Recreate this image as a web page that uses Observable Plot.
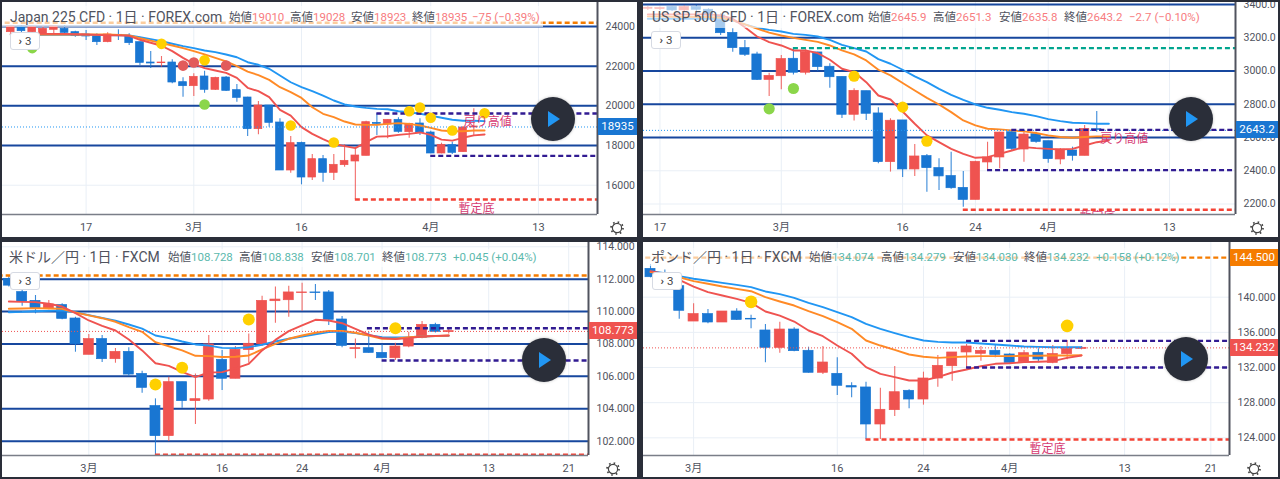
<!DOCTYPE html>
<html lang="ja"><head><meta charset="utf-8">
<script src="https://cdn.jsdelivr.net/npm/d3@7"></script>
<script src="https://cdn.jsdelivr.net/npm/@observablehq/plot@0.6"></script>
<style>
html,body{margin:0;padding:0;background:#2a2e39;width:1280px;height:479px;overflow:hidden;font-family:Roboto,"Noto Sans CJK JP",sans-serif}
.pane{position:absolute;background:#fff;overflow:hidden}
.pane svg.chart{position:absolute;left:0;top:0;background:transparent;font-family:Roboto,"Noto Sans CJK JP",sans-serif}
.band{position:absolute;background:rgba(255,255,255,.62)}
.t{position:absolute;white-space:nowrap;line-height:16px;height:16px}
.tag{position:absolute;color:#fff;font-size:11.5px;text-align:center;line-height:17px;height:17px}
.btn3{position:absolute;width:28px;height:16px;background:#fff;border:1px solid #d6dae3;border-radius:3px;color:#444;font-size:11.5px;line-height:16px;text-align:center;box-sizing:content-box}
.play{position:absolute;width:44px;height:44px;border-radius:22px;background:#2a2e39;box-shadow:0 0 3px rgba(0,0,0,.25)}
.play i{position:absolute;left:17px;top:14px;width:0;height:0;border-left:12px solid #2196f3;border-top:8px solid transparent;border-bottom:8px solid transparent}
.gear{position:absolute;width:16px;height:16px}
</style></head><body>
<script>
// ---------- Japan 225 CFD ----------
const jpOpen=[23714,24000,23714,23630,23832,23882,23714,23596,23512,23210,23580,23529,23210,22185,22152,22185,21194,20992,21480,20808,21429,20791,20421,18825,20018,19161,16742,18136,16389,17313,16624,17011,17196,17481,19144,19060,19296,18674,19111,18657,17599,18019,17666,18909];
const jpHigh=[24000,24050,24000,24000,24000,24050,23764,23798,23630,23680,23832,23630,23210,22740,22488,22320,21412,21614,21748,21446,21480,21076,20438,20220,20018,19346,18456,18170,17548,17498,17548,18036,17834,19228,19598,19296,19396,19128,19346,18724,18120,18170,18960,19850];
const jpLow=[23630,23630,23600,23546,23630,23596,23462,23294,23042,23176,23294,23042,22034,21883,21950,21110,20438,20472,20640,20774,20724,20186,18456,18540,18926,16742,16608,16020,16238,16154,16238,16910,15281,17481,18506,18338,18624,18372,18506,17582,17582,17548,17666,18506];
const jpClose=[24000,23764,23966,23882,24000,23680,23512,23496,23210,23596,23529,23160,22168,22135,22185,21177,20992,21463,20808,21412,20757,20404,18825,20018,19144,16742,18120,16389,17313,16624,17028,17229,17498,19178,19094,19296,18691,19094,18624,17599,18036,17632,18909,18960];
const jpFast=[23630,23630,23630,23630,23630,23630,23610,23600,23580,23560,23550,23530,23330,23180,23030,22760,22420,22120,21900,21780,21660,21410,20910,20740,20440,19800,19510,18930,18590,18320,18090,17970,17870,18170,18450,18470,18540,18590,18660,18540,18300,18250,18390,18510,18560];
const jpMid=[23600,23600,23600,23600,23600,23600,23600,23600,23600,23600,23580,23550,23410,23290,23160,23040,22910,22760,22590,22420,22240,22000,21730,21550,21310,20940,20690,20400,19930,19600,19430,19210,19060,19040,19040,19090,19130,19090,19010,18890,18760,18720,18720,18760,18760];
const jpSlow=[23580,23580,23580,23580,23580,23580,23580,23580,23580,23570,23560,23550,23460,23360,23260,23130,23010,22910,22790,22710,22590,22450,22200,22070,21870,21530,21190,20940,20740,20520,20270,20070,19970,19900,19850,19830,19730,19680,19600,19510,19400,19300,19250,19250,19230];
const jpDotBar=[2,14,16,17,18,18,20,26,30,37,38,39,41,44];
const jpDotPrice=[22910,23125,22030,22185,22300,20070,22030,19010,18155,19730,19920,19400,18760,19630];
const jpDotKind=["green","yellow","red","red","yellow","green","red","yellow","yellow","yellow","yellow","yellow","yellow","yellow"];
const jpYTicks=[24000,22000,20000,18000,16000];
const jpMajor=[24000,22000,20000,18000];
const jpTickBars=[7,17,27,39,49];
const jpTickLabels=["17","3月","16","4月","13"];
const jpDashPrice=[24185,19615,17480,15280];
const jpDashStart=[-2,34,39,32];
const jpDashKind=["orange","indigo","indigo","red"];
const jpNoteText=["戻り高値","暫定底"];
const jpNoteBar=[44.3,43.25];
const jpNotePrice=[19161,14810];

// ---------- US SP 500 CFD ----------
const spOpen=[3375,3373,3385,3365,3385,3369,3334,3230,3138,3100,2947,2969,3074,2990,3112,3026,2965,2737,2879,2745,2452,2703,2408,2488,2416,2368,2297,2225,2450,2480,2632,2528,2620,2578,2468,2522,2490,2650];
const spHigh=[3389,3385,3389,3391,3395,3375,3345,3254,3184,3114,2987,3094,3138,3128,3114,3044,2965,2893,2879,2779,2713,2703,2558,2498,2472,2512,2396,2458,2572,2632,2646,2636,2632,2578,2534,2542,2672,2757];
const spLow=[3365,3365,3359,3359,3355,3328,3214,3114,3088,2943,2847,2887,2976,2976,2999,2897,2715,2699,2703,2442,2392,2360,2366,2271,2281,2289,2181,2225,2406,2412,2516,2452,2566,2446,2436,2458,2490,2632];
const spClose=[3381,3379,3365,3385,3369,3334,3228,3138,3098,2947,2971,3072,2990,3114,3024,2963,2737,2881,2743,2452,2701,2408,2486,2416,2366,2295,2225,2454,2480,2630,2532,2618,2574,2470,2528,2490,2652,2646];
const spFast=[3341,3341,3341,3341,3341,3341,3335,3315,3264,3208,3174,3154,3124,3124,3108,3068,3014,2994,2933,2853,2829,2757,2683,2613,2572,2532,2502,2478,2482,2502,2522,2542,2536,2532,2528,2532,2552,2572,2582];
const spMid=[3329,3329,3327,3327,3325,3325,3321,3305,3281,3255,3231,3214,3200,3188,3176,3154,3124,3100,3064,3008,2974,2928,2883,2839,2799,2753,2703,2673,2653,2649,2643,2637,2627,2613,2603,2599,2603,2607,2607];
const spSlow=[3315,3315,3315,3315,3315,3315,3313,3305,3281,3260,3248,3238,3224,3218,3208,3188,3158,3138,3118,3072,3044,3008,2968,2933,2893,2857,2827,2799,2779,2767,2753,2743,2729,2711,2699,2689,2687,2683,2683];
const spDotBar=[10,12,17,21,23];
const spDotPrice=[2773,2895,2969,2783,2578];
const spDotKind=["green","green","yellow","yellow","yellow"];
const spYTicks=[3400,3200,3000,2800,2600,2400,2200];
const spMajor=[3400,3200,3000,2800,2600];
const spTickBars=[1,11,21,27,33,43];
const spTickLabels=["17","3月","16","24","4月","13"];
const spDashPrice=[3138,2646,2404,2165];
const spDashStart=[12,30,28,26];
const spDashKind=["teal","indigo","indigo","red"];
const spNoteText=["戻り高値","暫定底"];
const spNoteBar=[39.26,37.07];
const spNotePrice=[2592,2121];

// ---------- 米ドル/円 ----------
const ujOpen=[112.02,111.20,110.66,110.19,110.40,109.57,107.33,108.30,107.06,107.51,106.15,104.16,102.31,105.64,104.47,104.57,107.02,105.85,107.62,107.99,110.64,110.70,111.14,111.18,111.18,109.51,107.68,107.74,107.45,107.12,107.84,108.36,109.18,108.73];
const ujHigh=[112.23,111.30,110.99,110.68,110.48,109.65,108.58,108.52,107.72,107.76,106.32,104.61,105.95,105.64,106.15,108.52,107.60,107.84,108.62,110.95,111.51,111.57,111.75,111.67,111.30,109.69,108.30,108.73,107.97,108.05,108.73,109.39,109.28,108.99];
const ujLow=[111.51,110.33,109.86,110.11,109.49,107.49,107.33,106.85,106.81,105.99,104.96,101.11,101.98,104.03,103.03,104.47,105.13,105.85,106.81,107.84,109.28,109.65,110.02,110.68,109.14,107.76,107.08,107.43,107.08,106.98,107.76,108.32,108.67,108.62];
const ujClose=[111.60,110.62,110.17,110.44,109.55,107.99,108.30,107.06,107.51,106.11,105.29,102.31,105.64,104.47,104.59,107.97,105.85,107.64,108.01,110.66,110.74,111.18,111.18,111.14,109.49,107.88,107.74,107.45,107.12,107.84,108.32,109.18,108.75,108.79];
const ujFast=[110.62,110.60,110.58,110.48,110.31,109.90,109.45,109.12,108.83,108.28,107.60,106.81,106.65,106.28,105.95,106.24,106.26,106.49,106.77,107.60,108.25,108.79,109.14,109.49,109.45,109.28,108.93,108.58,108.36,108.30,108.36,108.46,108.50,108.52];
const ujMid=[110.17,110.19,110.21,110.19,110.17,109.94,109.76,109.59,109.37,109.04,108.75,108.11,107.86,107.60,107.27,107.25,107.19,107.21,107.29,107.66,108.01,108.32,108.52,108.69,108.81,108.81,108.69,108.52,108.32,108.32,108.42,108.46,108.48,108.52];
const ujSlow=[109.96,109.98,110.02,110.04,110.07,109.96,109.78,109.61,109.43,109.20,108.95,108.52,108.36,108.15,107.97,107.90,107.76,107.74,107.80,107.95,108.15,108.32,108.46,108.60,108.73,108.77,108.67,108.54,108.42,108.40,108.42,108.46,108.48,108.50];
const ujDotBar=[11,13,18,29];
const ujDotPrice=[105.50,106.53,109.51,108.97];
const ujDotKind=["yellow","yellow","yellow","yellow"];
const ujYTicks=[114,112,110,108,106,104,102];
const ujMajor=[112,110,108,106,104,102];
const ujTickBars=[6,16,22,28,36,42];
const ujTickLabels=["3月","16","24","4月","13","21"];
const ujDashPrice=[112.23,108.97,106.98,101.17];
const ujDashStart=[-2,26.9,28,11];
const ujDashKind=["orange","indigo","indigo","red"];

// ---------- ポンド/円 ----------
const gjOpen=[143.22,142.65,141.25,137.23,138.07,137.12,138.37,137.54,136.21,134.24,136.32,133.90,131.40,131.28,129.88,129.73,125.52,127.15,129.35,128.36,130.75,132.15,133.71,133.56,133.90,133.48,132.61,133.67,132.53,133.52,134.12];
const gjHigh=[143.72,143.10,141.25,139.24,138.60,138.37,138.67,137.95,136.89,137.16,136.51,134.31,134.39,133.10,130.28,130.33,129.65,132.12,129.46,131.47,133.37,133.71,134.62,134.39,134.62,133.56,133.93,134.12,134.50,135.07,134.39];
const gjLow=[142.20,141.10,137.50,137.23,136.97,137.12,137.35,136.40,132.53,133.63,133.78,131.36,131.21,128.82,128.55,123.81,123.81,126.43,127.30,127.72,129.76,130.45,131.85,132.72,133.10,132.49,132.49,132.53,132.42,132.87,134.01];
const gjClose=[142.27,141.14,138.45,138.07,137.12,138.37,137.42,137.46,134.24,136.32,133.86,131.40,132.57,129.92,129.73,125.52,127.19,129.19,128.36,130.75,132.19,133.71,134.39,133.90,133.44,132.53,133.63,132.91,133.52,134.12,134.24];
const gjFast=[142.96,142.65,141.97,141.21,140.57,140.19,139.81,139.36,138.37,137.91,137.23,136.21,135.56,134.50,133.56,132.04,131.28,130.90,130.52,130.52,130.90,131.43,131.77,132.15,132.42,132.49,132.61,132.65,132.72,133.10,133.37];
const gjMid=[142.85,142.65,142.27,141.82,141.52,141.21,140.95,140.68,140.00,139.51,139.05,138.41,137.84,137.16,136.40,135.07,134.50,134.01,133.48,133.22,133.10,133.18,133.25,133.29,133.29,133.29,133.33,133.33,133.37,133.37,133.40];
const gjSlow=[142.96,142.73,142.39,142.09,141.86,141.63,141.40,141.14,140.65,140.34,139.92,139.36,138.86,138.29,137.73,136.97,136.40,135.91,135.45,135.07,134.92,134.84,134.84,134.73,134.62,134.50,134.39,134.35,134.31,134.31,134.31];
const gjDotBar=[7,29];
const gjDotPrice=[139.47,136.74];
const gjDotKind=["yellow","yellow"];
const gjYTicks=[140,136,132,128,124];
const gjMajor=[];
const gjTickBars=[3,13,19,25,33,39];
const gjTickLabels=["3月","16","24","4月","13","21"];
const gjDashPrice=[144.5,135.03,132.0,123.81];
const gjDashStart=[-2,22,22,15];
const gjDashKind=["orange","indigo","indigo","red"];
const gjNoteText=["暫定底"];
const gjNoteBar=[27.63];
const gjNotePrice=[122.75];

const UP="#ef5350",DOWN="#1976d2",NAVY="#17479e",GRID="#e9eff6",AXIS="#50535e",TEXT="#50535e";
const dashColor={orange:"#f57c00",indigo:"#311b92",red:"#f44336",teal:"#00a58e"};
const dotColor={yellow:"#ffd000",green:"#8bd64a",red:"#e25b5b"};

function add(parent,cls,css,html){const e=document.createElement("div");e.className=cls;e.style.cssText=css;if(html!=null)e.innerHTML=html;parent.appendChild(e);return e;}

function drawPanel(o){
  const W=o.right-o.left,H=o.bottom-o.top;
  const pane=add(document.body,"pane",`left:${o.left}px;top:${o.top}px;width:${W}px;height:${H}px`);
  const xMin=(o.left-o.x0)/o.dx,xMax=(o.axisX-o.x0)/o.dx;
  const priceAt=z=>o.p0+o.p1*z;
  const yMin=priceAt((o.lineY-240*(o.top>100?1:0))*3),yMax=priceAt((o.top-240*(o.top>100?1:0))*3);
  const idx=d3.range(o.open.length);
  const hw=o.bodyW/2;
  const clip={clip:true};
  const dashes=o.dashPrice.map((p,i)=>({p,s:o.dashStart[i],k:o.dashKind[i]}));
  const line=(arr,stroke)=>Plot.line(arr.map((v,i)=>[i,v]),{x:"0",y:"1",stroke,strokeWidth:1.9,...clip});
  const marks=[
    Plot.ruleX(o.tickBars,{stroke:GRID,strokeWidth:1,...clip}),
    Plot.ruleY(o.yTicks,{stroke:GRID,strokeWidth:1,...clip}),
    Plot.ruleY(o.major,{stroke:NAVY,strokeWidth:2,...clip}),
    Plot.ruleX(idx,{x:i=>i,y1:i=>o.low[i],y2:i=>o.high[i],stroke:i=>o.close[i]>=o.open[i]?UP:DOWN,strokeWidth:1.1,strokeOpacity:.85,...clip}),
    Plot.rect(idx,{x1:i=>i-hw,x2:i=>i+hw,y1:i=>o.open[i],y2:i=>o.close[i],fill:i=>o.close[i]>=o.open[i]?UP:DOWN,stroke:i=>o.close[i]>=o.open[i]?UP:DOWN,strokeWidth:.7,...clip}),
    line(o.slow,"#2196f3"),line(o.mid,"#ff8a26"),line(o.fast,"#ef5350"),
    Plot.ruleY([o.last],{stroke:o.lastColor,strokeWidth:1,strokeDasharray:"1,2",...clip}),
    Plot.ruleY(dashes,{y:"p",x1:"s",x2:()=>xMax,stroke:d=>dashColor[d.k],strokeWidth:2.4,strokeDasharray:"5,3",...clip}),
    Plot.dot(o.dotBar,{x:d=>d,y:(d,i)=>o.dotPrice[i],r:o.dotR,fill:(d,i)=>dotColor[o.dotKind[i]],...clip}),
    Plot.text(o.noteText||[],{x:(d,i)=>o.noteBar[i],y:(d,i)=>o.notePrice[i],text:d=>d,fill:"#d63b73",fontSize:12,fontFamily:'"Noto Sans CJK JP"',...clip}),
    Plot.ruleX([xMax],{stroke:AXIS,strokeWidth:2}),
    Plot.ruleY([yMin],{stroke:"#7a7e88",strokeWidth:1.5}),
    Plot.axisX({ticks:o.tickBars,tickFormat:d=>o.tickLabels[o.tickBars.indexOf(d)],tickSize:0,tickPadding:9,fontSize:11,fill:TEXT,anchor:"bottom",label:null}),
    Plot.axisY({ticks:o.yTicks,tickFormat:d=>d3.format(o.fmt)(d),tickSize:0,tickPadding:8,fontSize:10.5,fill:TEXT,anchor:"right",label:null})
  ];
  const chart=Plot.plot({width:W,height:H,marginLeft:0,marginTop:0,marginRight:o.right-o.axisX,marginBottom:o.bottom-o.lineY,
    x:{type:"linear",domain:[xMin,xMax],range:[0,o.axisX-o.left],axis:null},
    y:{type:"linear",domain:[yMin,yMax],range:[o.lineY-o.top,0],axis:null},
    style:{background:"transparent",overflow:"hidden"},marks});
  chart.classList.add("chart");
  pane.appendChild(chart);
  const yS=chart.scale("y");
  add(pane,"band",`left:0;top:${o.bandTop-o.top}px;width:${o.bandRight-o.left}px;height:${o.bandH}px`);
  add(pane,"t",`left:${o.titleX-o.left}px;top:${o.textY-o.top-8}px;font-size:14px;color:${TEXT}`,o.title);
  o.legend.forEach(([x,label,val])=>{
    add(pane,"t",`left:${x-o.left}px;top:${o.textY-o.top-8}px;font-size:11.5px;color:${TEXT}`,`${label}<span style="color:${o.legendColor}">${val}</span>`);
  });
  add(pane,"btn3",`left:${o.btnX-o.left}px;top:${o.btnY-o.top}px`,'<b style="font-weight:700">›</b>&nbsp;3');
  o.tags.forEach(([price,text,color])=>{
    add(pane,"tag",`left:${o.axisX-o.left+1}px;width:${o.right-o.axisX-1}px;top:${yS.apply(price)-8.5}px;background:${color}`,text);
  });
  add(pane,"play",`left:${o.playX-22-o.left}px;top:${o.playY-22-o.top}px`,"<i></i>");
  add(pane,"gear",`left:${(o.axisX+o.right)/2-8-o.left}px;top:${o.lineY+6-o.top}px`,
    `<svg width="16" height="16"><circle cx="8" cy="8" r="4.6" fill="none" stroke="#444" stroke-width="1.2"/><circle cx="8" cy="8" r="6" fill="none" stroke="#444" stroke-width="1.7" stroke-dasharray="1.6,3.1"/></svg>`);
}

drawPanel({left:2,top:2,right:637,bottom:237,axisX:597,lineY:214,x0:10.21,dx:10.77,bodyW:.72,p0:25310,p1:-16.8,dotR:5.3,
  open:jpOpen,high:jpHigh,low:jpLow,close:jpClose,fast:jpFast,mid:jpMid,slow:jpSlow,dotBar:jpDotBar,dotPrice:jpDotPrice,dotKind:jpDotKind,
  yTicks:jpYTicks,major:jpMajor,tickBars:jpTickBars,tickLabels:jpTickLabels,dashPrice:jpDashPrice,dashStart:jpDashStart,dashKind:jpDashKind,
  noteText:jpNoteText,noteBar:jpNoteBar,notePrice:jpNotePrice,fmt:"d",last:18935,lastColor:"#2196f3",
  title:"Japan 225 CFD · 1日 · FOREX.com",titleX:10,textY:17,legendColor:"#f77c80",
  legend:[[229,"始値","19010"],[290,"高値","19028"],[351,"安値","18923"],[412,"終値","18935"],[472,"","−75 (−0.39%)"]],
  bandTop:6,bandH:21,bandRight:543,btnX:10,btnY:32,tags:[[18935,"18935","#1976d2"]],playX:553,playY:119});

drawPanel({left:643,top:2,right:1278,bottom:237,axisX:1235,lineY:214,x0:647.33,dx:12.133,bodyW:.77,p0:3424.7,p1:-2.006,dotR:5.6,
  open:spOpen,high:spHigh,low:spLow,close:spClose,fast:spFast,mid:spMid,slow:spSlow,dotBar:spDotBar,dotPrice:spDotPrice,dotKind:spDotKind,
  yTicks:spYTicks,major:spMajor,tickBars:spTickBars,tickLabels:spTickLabels,dashPrice:spDashPrice,dashStart:spDashStart,dashKind:spDashKind,
  noteText:spNoteText,noteBar:spNoteBar,notePrice:spNotePrice,fmt:".1f",last:2643.2,lastColor:"#2196f3",
  title:"US SP 500 CFD · 1日 · FOREX.com",titleX:652,textY:17,legendColor:"#f77c80",
  legend:[[868,"始値","2645.9"],[933,"高値","2651.3"],[999,"安値","2635.8"],[1064,"終値","2643.2"],[1129,"","−2.7 (−0.10%)"]],
  bandTop:6,bandH:22,bandRight:1202,btnX:651,btnY:31,tags:[[2643.2,"2643.2","#1976d2"]],playX:1191,playY:119});

drawPanel({left:2,top:242,right:637,bottom:477,axisX:588,lineY:455,x0:8.33,dx:13.33,bodyW:.75,p0:114.387,p1:-0.02058,dotR:6,
  open:ujOpen,high:ujHigh,low:ujLow,close:ujClose,fast:ujFast,mid:ujMid,slow:ujSlow,dotBar:ujDotBar,dotPrice:ujDotPrice,dotKind:ujDotKind,
  yTicks:ujYTicks,major:ujMajor,tickBars:ujTickBars,tickLabels:ujTickLabels,dashPrice:ujDashPrice,dashStart:ujDashStart,dashKind:ujDashKind,
  fmt:".3f",last:108.773,lastColor:"#ef5350",
  title:"米ドル／円 · 1日 · FXCM",titleX:9,textY:257,legendColor:"#5bb9ad",
  legend:[[168,"始値","108.728"],[239,"高値","108.838"],[311,"安値","108.701"],[382,"終値","108.773"],[453,"","+0.045 (+0.04%)"]],
  bandTop:249,bandH:18,bandRight:538,btnX:10,btnY:272,tags:[[108.773,"108.773","#ef5350"]],playX:544,playY:360});

drawPanel({left:643,top:242,right:1278,bottom:477,axisX:1229,lineY:455,x0:650,dx:14.367,bodyW:.7,p0:146.445,p1:-0.03791,dotR:6.3,
  open:gjOpen,high:gjHigh,low:gjLow,close:gjClose,fast:gjFast,mid:gjMid,slow:gjSlow,dotBar:gjDotBar,dotPrice:gjDotPrice,dotKind:gjDotKind,
  yTicks:gjYTicks,major:gjMajor,tickBars:gjTickBars,tickLabels:gjTickLabels,dashPrice:gjDashPrice,dashStart:gjDashStart,dashKind:gjDashKind,
  noteText:gjNoteText,noteBar:gjNoteBar,notePrice:gjNotePrice,fmt:".3f",last:134.232,lastColor:"#ef5350",
  title:"ポンド／円 · 1日 · FXCM",titleX:651,textY:257,legendColor:"#5bb9ad",
  legend:[[809,"始値","134.074"],[881,"高値","134.279"],[953,"安値","134.030"],[1024,"終値","134.232"],[1096,"","+0.158 (+0.12%)"]],
  bandTop:248,bandH:18,bandRight:1180,btnX:652,btnY:272,tags:[[144.5,"144.500","#f57c00"],[134.232,"134.232","#ef5350"]],playX:1186,playY:359});
</script>
</body></html>
